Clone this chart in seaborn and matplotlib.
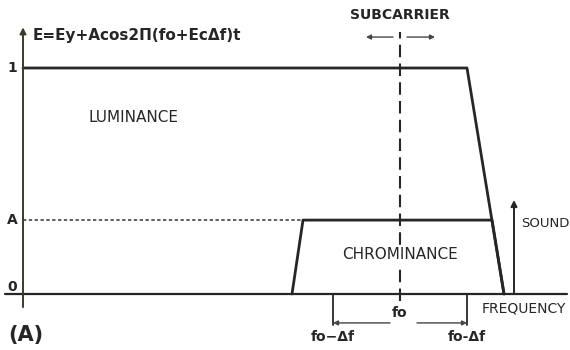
import numpy as np
import pandas as pd
import seaborn as sns
import matplotlib
matplotlib.use('Agg')
import matplotlib.pyplot as plt

# frequency axis in arbitrary units, amplitude normalised so luminance = 1
lum_freq = [0, 444, 481]
lum_amp = [1, 1, 0]
A = 0.327
chroma_freq = [269, 280, 469, 481]
chroma_amp = [0, A, A, 0]
fo = 377
delta_f = 67
sound_freq = 491
sound_amp = 0.416
level_labels = ['1', 'A', '0']
level_values = [1, A, 0.03]

ink = '#262626'

sns.set_style('white')
plt.rcParams['font.family'] = ['DejaVu Sans']

fig = plt.figure(figsize=(5.7, 3.5), dpi=100)
ax = fig.add_axes([0, 0, 1, 1])
ax.set_xlim(-23, 547)
ax.set_ylim(-0.2478, 1.3009)
ax.axis('off')

lum = pd.DataFrame({'f': lum_freq, 'E': lum_amp})
chroma = pd.DataFrame({'f': chroma_freq, 'E': chroma_amp})
sns.lineplot(data=lum, x='f', y='E', color=ink, lw=2, sort=False, ax=ax)
sns.lineplot(data=chroma, x='f', y='E', color=ink, lw=2, sort=False, ax=ax)

# dotted A level
ax.plot([0, chroma_freq[1]], [A, A], color='#444', lw=1.2, ls=(0, (2, 1.5)))

# axes
ax.plot([-18, 544], [0, 0], color=ink, lw=1.6)
ax.annotate('', xy=(0, 1.18), xytext=(0, -0.058),
            arrowprops=dict(arrowstyle='-|>', color='#3a3a2a', lw=1.4,
                            mutation_scale=9, shrinkA=0, shrinkB=0))

# subcarrier
ax.plot([fo, fo], [-0.03, 1.16], color=ink, lw=1.5, ls=(0, (6, 3)), zorder=2)
ax.annotate('', xy=(343, 1.137), xytext=(370, 1.137),
            arrowprops=dict(arrowstyle='-|>', color='#444', lw=1,
                            mutation_scale=7, shrinkA=0, shrinkB=0))
ax.annotate('', xy=(412, 1.137), xytext=(384, 1.137),
            arrowprops=dict(arrowstyle='-|>', color='#444', lw=1,
                            mutation_scale=7, shrinkA=0, shrinkB=0))
ax.text(fo, 1.235, 'SUBCARRIER', ha='center', va='center', fontsize=10,
        fontweight='bold', color=ink)

# bandwidth markers
for f in [fo - delta_f, fo + delta_f]:
    ax.plot([f, f], [0, -0.137], color=ink, lw=1.3)
ax.annotate('', xy=(fo - delta_f, -0.128), xytext=(fo - 10, -0.128),
            arrowprops=dict(arrowstyle='-|>', color='#444', lw=1,
                            mutation_scale=7, shrinkA=0, shrinkB=0))
ax.annotate('', xy=(fo + delta_f, -0.128), xytext=(fo + 17, -0.128),
            arrowprops=dict(arrowstyle='-|>', color='#444', lw=1,
                            mutation_scale=7, shrinkA=0, shrinkB=0))
ax.text(fo, -0.084, 'fo', ha='center', va='center', fontsize=10,
        fontweight='bold', color=ink)
ax.text(fo - delta_f, -0.19, 'fo\u2212\u0394f', ha='center', va='center',
        fontsize=10, fontweight='bold', color=ink)
ax.text(fo + delta_f, -0.19, 'fo-\u0394f', ha='center', va='center',
        fontsize=10, fontweight='bold', color=ink)

# sound carrier
ax.annotate('', xy=(sound_freq, sound_amp), xytext=(sound_freq, 0),
            arrowprops=dict(arrowstyle='-|>', color=ink, lw=1.4,
                            mutation_scale=9, shrinkA=0, shrinkB=0))
ax.text(sound_freq + 7, 0.31, 'SOUND', ha='left', va='center', fontsize=9.5,
        color=ink)

# labels
ax.text(459, -0.062, 'FREQUENCY', ha='left', va='center', fontsize=10,
        color=ink)
ax.text(fo, 0.173, 'CHROMINANCE', ha='center', va='center', fontsize=11,
        color=ink, zorder=3,
        bbox=dict(facecolor='white', edgecolor='none', pad=2))
ax.text(65, 0.779, 'LUMINANCE', ha='left', va='center', fontsize=11,
        color=ink)
ax.text(10, 1.146, 'E=Ey+Acos2\u03a0(fo+Ec\u0394f)t', ha='left', va='center',
        fontsize=11, fontweight='bold', color=ink)
for lab, v in zip(level_labels, level_values):
    ax.text(-11, v, lab, ha='center', va='center', fontsize=10,
            fontweight='bold', color=ink)
ax.text(-15, -0.181, '(A)', ha='left', va='center', fontsize=15,
        fontweight='bold', color=ink)

fig.savefig('out.png', dpi=100)
